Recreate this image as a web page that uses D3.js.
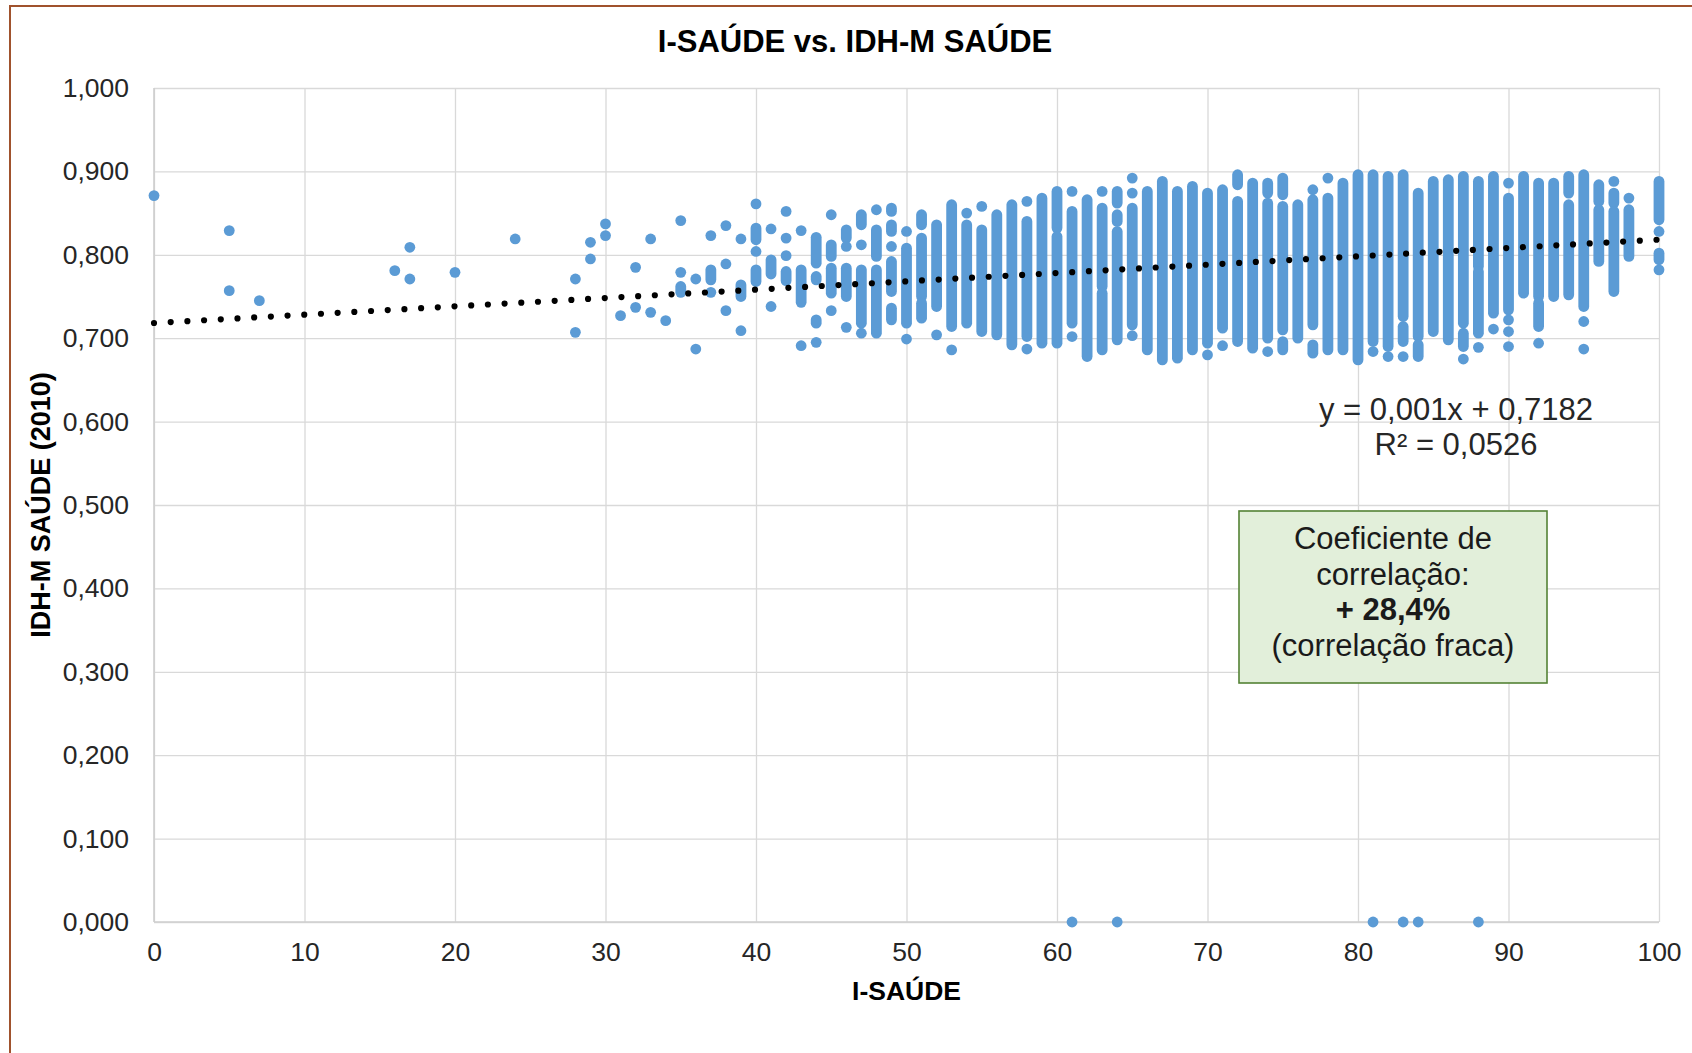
<!DOCTYPE html>
<html>
<head>
<meta charset="utf-8">
<script src="https://cdn.jsdelivr.net/npm/d3@7"></script>
<style>
  html, body { margin: 0; padding: 0; background: #fff; }
  svg { display: block; font-family: "Liberation Sans", Arial, sans-serif; }
</style>
</head>
<body>
<svg id="chart" width="1692" height="1053"></svg>
<script>
// ---- Texts ----
const chartTitle = "I-SAÚDE vs. IDH-M SAÚDE";
const xTitle = "I-SAÚDE";
const yTitle = "IDH-M SAÚDE (2010)";
const equationLines = ["y = 0,001x + 0,7182", "R² = 0,0526"];
const noteLines = ["Coeficiente de", "correlação:", "+ 28,4%", "(correlação fraca)"];

// ---- Axis ticks ----
const xTicks = [0, 10, 20, 30, 40, 50, 60, 70, 80, 90, 100];
const yTicks = [0, 0.1, 0.2, 0.3, 0.4, 0.5, 0.6, 0.7, 0.8, 0.9, 1.0];

// ---- Trend line (linear fit) ----
const trendSlope = 0.001;
const trendIntercept = 0.7182;

// ---- Municipalities grouped by I-SAÚDE score ----
// Each entry of idhRuns lists IDH-M SAÚDE values for that score:
// a number is a single municipality, a [top, bottom] pair is a run of
// municipalities whose markers overlap into one continuous stack.
const scoreCols = [0, 5, 7, 16, 17, 20, 24, 28, 29, 30, 31, 32, 33, 34, 35, 36, 37, 38, 39,
  40, 41, 42, 43, 44, 45, 46, 47, 48, 49, 50, 51, 52, 53, 54, 55, 56, 57, 58, 59,
  60, 61, 62, 63, 64, 65, 66, 67, 68, 69, 70, 71, 72, 73, 74, 75, 76, 77, 78, 79,
  80, 81, 82, 83, 84, 85, 86, 87, 88, 89, 90, 91, 92, 93, 94, 95, 96, 97, 98, 100];

const idhRuns = [
  [0.871],
  [0.829, 0.757],
  [0.745],
  [0.781],
  [0.809, 0.771],
  [0.779],
  [0.819],
  [0.771, 0.707],
  [0.815, 0.795],
  [0.837, 0.823],
  [0.727],
  [0.785, 0.737],
  [0.819, 0.731],
  [0.721],
  [0.841, 0.779, [0.762, 0.755]],
  [0.771, 0.687],
  [0.823, [0.782, 0.770], 0.755],
  [0.835, 0.789, 0.733],
  [0.819, [0.764, 0.750], 0.709],
  [0.861, [0.832, 0.818], 0.804, [0.782, 0.768]],
  [0.831, [0.794, 0.777], 0.738],
  [0.852, 0.820, 0.799, [0.780, 0.769]],
  [0.829, [0.782, 0.743], 0.691],
  [[0.821, 0.790], [0.774, 0.770], [0.722, 0.718], 0.695],
  [0.848, [0.812, 0.798], [0.784, 0.754], 0.733],
  [[0.830, 0.820], 0.810, [0.784, 0.750], 0.713],
  [[0.848, 0.836], 0.812, [0.782, 0.718], 0.706],
  [0.854, [0.830, 0.798], [0.782, 0.706]],
  [[0.856, 0.852], [0.836, 0.828], 0.810, [0.792, 0.756], [0.736, 0.722]],
  [0.828, [0.808, 0.718], 0.699],
  [[0.848, 0.836], [0.820, 0.750], [0.742, 0.724]],
  [[0.836, 0.738], 0.704],
  [[0.860, 0.714], 0.686],
  [0.850, [0.836, 0.718]],
  [0.858, [0.830, 0.708]],
  [[0.848, 0.704]],
  [[0.860, 0.692]],
  [0.864, [0.840, 0.702], 0.687],
  [[0.868, 0.694]],
  [[0.876, 0.832], [0.822, 0.694]],
  [0.876, [0.852, 0.718], 0.702, 0],
  [[0.866, 0.678]],
  [0.876, [0.856, 0.762], [0.754, 0.686]],
  [[0.876, 0.862], [0.848, 0.840], [0.828, 0.698], 0],
  [0.892, 0.874, [0.856, 0.716], 0.703],
  [[0.876, 0.686]],
  [[0.888, 0.674]],
  [[0.876, 0.676]],
  [[0.882, 0.686]],
  [[0.874, 0.694], 0.680],
  [[0.878, 0.712], 0.691],
  [[0.896, 0.884], [0.864, 0.696]],
  [[0.886, 0.688]],
  [[0.886, 0.874], [0.862, 0.700], 0.684],
  [[0.892, 0.872], [0.858, 0.710], [0.696, 0.686]],
  [[0.860, 0.700]],
  [0.878, [0.866, 0.716], [0.692, 0.682]],
  [0.892, [0.868, 0.686]],
  [[0.886, 0.686]],
  [[0.896, 0.674]],
  [[0.896, 0.696], 0.684, 0],
  [[0.894, 0.690], 0.678],
  [[0.896, 0.726], [0.714, 0.696], 0.678, 0],
  [[0.874, 0.702], [0.692, 0.678], 0],
  [[0.888, 0.708]],
  [[0.890, 0.698]],
  [[0.894, 0.718], [0.706, 0.690], 0.675],
  [[0.888, 0.786], [0.780, 0.706], 0.689, 0],
  [[0.894, 0.730], 0.711],
  [0.886, [0.868, 0.734], 0.722, 0.708, 0.690],
  [[0.894, 0.754]],
  [[0.886, 0.750], [0.742, 0.714], 0.694],
  [[0.886, 0.750]],
  [[0.894, 0.874], [0.860, 0.752]],
  [[0.896, 0.738], 0.720, 0.687],
  [[0.884, 0.864], [0.854, 0.792]],
  [0.888, [0.874, 0.862], [0.852, 0.756]],
  [0.868, [0.854, 0.798]],
  [[0.888, 0.842], 0.828, [0.802, 0.794], 0.782]
];

// ---- Layout ----
const W = 1692, H = 1053;
const plot = { left: 154, right: 1659, top: 88, bottom: 922 };
const markerR = 5.4;
const blue = "#5b9bd5";
const gridColor = "#d9d9d9";
const tickFont = 26.5;
const textFont = 31;

const svg = d3.select("#chart");

// Chart area frame
svg.append("rect")
  .attr("x", 10).attr("y", 6)
  .attr("width", W + 20).attr("height", H + 20)
  .attr("fill", "#fff")
  .attr("stroke", "#a0522d").attr("stroke-width", 2);

const x = d3.scaleLinear().domain([0, 100]).range([plot.left, plot.right]);
const y = d3.scaleLinear().domain([0, 1]).range([plot.bottom, plot.top]);

const ptBR = d3.formatLocale({ decimal: ",", thousands: ".", grouping: [3], currency: ["R$", ""] });
const fmtY = ptBR.format(".3f");

// Vertical gridlines + x labels
const gx = svg.append("g")
  .attr("transform", `translate(0,${plot.bottom})`)
  .call(d3.axisBottom(x).tickValues(xTicks).tickFormat(d3.format("d"))
    .tickSize(-(plot.bottom - plot.top)).tickPadding(20));
gx.select(".domain").remove();
gx.selectAll(".tick line").attr("stroke", gridColor).attr("stroke-width", 1.3);
gx.selectAll(".tick text")
  .attr("fill", "#262626").attr("font-size", tickFont).attr("font-family", "Liberation Sans, Arial, sans-serif");

// Horizontal gridlines + y labels
const gy = svg.append("g")
  .attr("transform", `translate(${plot.left},0)`)
  .call(d3.axisLeft(y).tickValues(yTicks).tickFormat(fmtY)
    .tickSize(-(plot.right - plot.left)).tickPadding(25));
gy.select(".domain").remove();
gy.selectAll(".tick line").attr("stroke", gridColor).attr("stroke-width", 1.3);
gy.selectAll(".tick text")
  .attr("fill", "#262626").attr("font-size", tickFont).attr("font-family", "Liberation Sans, Arial, sans-serif");

// Axis lines
svg.append("line")
  .attr("x1", x(0)).attr("x2", x(100)).attr("y1", y(0)).attr("y2", y(0))
  .attr("stroke", "#cfcfcf").attr("stroke-width", 1.6);
svg.append("line")
  .attr("x1", x(0)).attr("x2", x(0)).attr("y1", y(0)).attr("y2", y(1))
  .attr("stroke", "#cfcfcf").attr("stroke-width", 1.6);

// Scatter markers: every single value is a circle, every run a rounded stack
const marks = [];
scoreCols.forEach((s, i) => {
  idhRuns[i].forEach(v => {
    const top = Array.isArray(v) ? v[0] : v;
    const bot = Array.isArray(v) ? v[1] : v;
    marks.push({ s, top, bot });
  });
});
svg.append("g").selectAll("rect")
  .data(marks)
  .join("rect")
  .attr("x", d => x(d.s) - markerR)
  .attr("y", d => y(d.top) - markerR)
  .attr("width", markerR * 2)
  .attr("height", d => y(d.bot) - y(d.top) + markerR * 2)
  .attr("rx", markerR).attr("ry", markerR)
  .attr("fill", blue);

// Dotted linear trend line
const trendPts = [0, 100].map(s => [s, trendIntercept + trendSlope * s]);
svg.append("path")
  .datum(trendPts)
  .attr("d", d3.line().x(d => x(d[0])).y(d => y(d[1])))
  .attr("fill", "none")
  .attr("stroke", "#000")
  .attr("stroke-width", 6.2)
  .attr("stroke-linecap", "round")
  .attr("stroke-dasharray", "0 16.72");

// Title
svg.append("text")
  .attr("x", 855).attr("y", 52)
  .attr("text-anchor", "middle")
  .attr("font-size", textFont).attr("font-weight", "bold").attr("fill", "#000")
  .text(chartTitle);

// Axis titles
svg.append("text")
  .attr("x", (plot.left + plot.right) / 2).attr("y", 1000)
  .attr("text-anchor", "middle")
  .attr("font-size", 26.5).attr("font-weight", "bold").attr("fill", "#000")
  .text(xTitle);
svg.append("text")
  .attr("transform", `translate(50,${(plot.top + plot.bottom) / 2}) rotate(-90)`)
  .attr("text-anchor", "middle")
  .attr("font-size", 27).attr("font-weight", "bold").attr("fill", "#000")
  .text(yTitle);

// Trend equation
svg.append("g").selectAll("text")
  .data(equationLines)
  .join("text")
  .attr("x", 1456)
  .attr("y", (d, i) => 420 + i * 34.5)
  .attr("text-anchor", "middle")
  .attr("font-size", textFont).attr("fill", "#262626")
  .text(d => d);

// Correlation note box
svg.append("rect")
  .attr("x", 1239).attr("y", 511)
  .attr("width", 308).attr("height", 172)
  .attr("fill", "#e2efda")
  .attr("stroke", "#548235").attr("stroke-width", 1.6);
svg.append("g").selectAll("text")
  .data(noteLines)
  .join("text")
  .attr("x", 1393)
  .attr("y", (d, i) => 549 + i * 35.5)
  .attr("text-anchor", "middle")
  .attr("font-size", textFont)
  .attr("font-weight", (d, i) => i === 2 ? "bold" : "normal")
  .attr("fill", "#1a1a1a")
  .text(d => d);
</script>
</body>
</html>
